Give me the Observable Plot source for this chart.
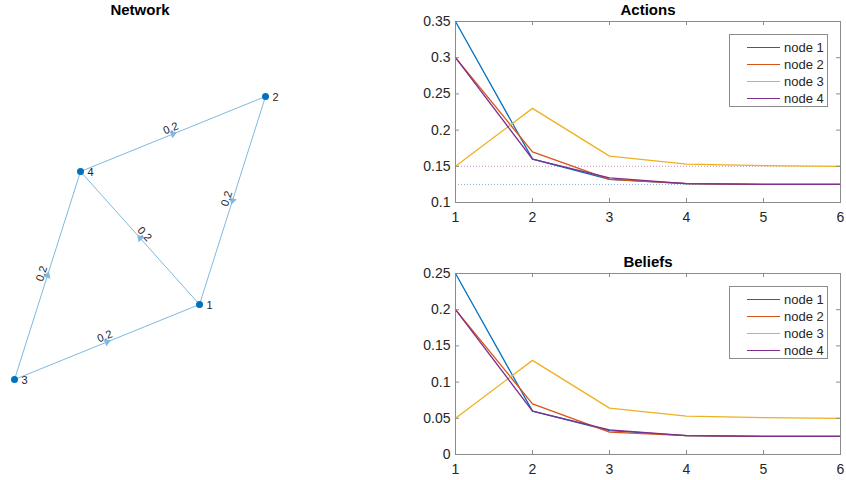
<!DOCTYPE html>
<html><head><meta charset="utf-8">
<script src="https://cdn.jsdelivr.net/npm/d3@7"></script>
<script src="https://cdn.jsdelivr.net/npm/@observablehq/plot@0.6"></script>
<style>
body{margin:0;background:#fff;font-family:"Liberation Sans",Arial,Helvetica,sans-serif;}
#root{position:relative;width:846px;height:480px;overflow:hidden;background:#fff;}
#root > svg{position:absolute;left:0;top:0;}
.legend{position:absolute;box-sizing:border-box;border:1px solid #8c8c8c;background:#fff;font-size:13px;color:#262626;padding-top:4px;}
.legend .row{height:17px;display:flex;align-items:center;}
.legend .sw{display:block;width:33px;height:1px;margin-left:17px;}
.legend .lb{margin-left:4px;line-height:1;}
</style></head><body><div id="root"></div>
<script>
// ---------- data ----------
const steps = [1, 2, 3, 4, 5, 6];
const nodeNames = ["node 1", "node 2", "node 3", "node 4"];
const nodeColors = ["#0072BD", "#D95319", "#EDB120", "#7E2F8E"];

const actionsNode1 = [0.35, 0.160, 0.132, 0.126, 0.125, 0.125];
const actionsNode2 = [0.30, 0.170, 0.132, 0.126, 0.125, 0.125];
const actionsNode3 = [0.15, 0.230, 0.164, 0.153, 0.151, 0.150];
const actionsNode4 = [0.30, 0.160, 0.134, 0.126, 0.125, 0.125];
const actionsRefs = [0.15, 0.125];
const actionsRefColors = ["#c98fb4", "#7eaee0"];
const actionsYTicks = [0.1, 0.15, 0.2, 0.25, 0.3, 0.35];

const beliefsNode1 = [0.25, 0.060, 0.033, 0.026, 0.025, 0.025];
const beliefsNode2 = [0.20, 0.070, 0.031, 0.026, 0.025, 0.025];
const beliefsNode3 = [0.05, 0.130, 0.064, 0.053, 0.051, 0.050];
const beliefsNode4 = [0.20, 0.060, 0.034, 0.026, 0.025, 0.025];
const beliefsYTicks = [0, 0.05, 0.1, 0.15, 0.2, 0.25];

// network layout (layout units)
const nodeIds = [1, 2, 3, 4];
const nodeX = [0.59, 1.25, -1.26, -0.60];
const nodeY = [-0.64, 1.44, -1.39, 0.69];
const edgeSource = [4, 2, 1, 3, 3];
const edgeTarget = [2, 1, 4, 4, 1];
const edgeWeight = [0.2, 0.2, 0.2, 0.2, 0.2];

// ---------- drawing ----------
const W = 846, H = 480;
const FONT = "'Liberation Sans', Arial, Helvetica, sans-serif";
const root = document.getElementById("root");
const frameStroke = "#8c8c8c";

function linePanel({title, series, yTicks, top, bottom, refs, refColors}) {
  const left = 455, right = 840;
  const frameH = bottom - top, frameW = right - left;
  const data = series.flatMap((vals, i) => vals.map((v, j) => ({step: steps[j], value: v, node: nodeNames[i]})));
  const refData = (refs || []).map((r, i) => ({y: r, c: refColors[i]}));
  const svg = Plot.plot({
    width: W, height: H,
    marginLeft: left, marginRight: W - right, marginTop: top, marginBottom: H - bottom,
    style: {background: "transparent", fontFamily: FONT, fontSize: "14px", color: "#262626", overflow: "visible"},
    x: {domain: [steps[0], steps[steps.length - 1]], label: null},
    y: {domain: [yTicks[0], yTicks[yTicks.length - 1]], label: null},
    color: {domain: nodeNames, range: nodeColors},
    marks: [
      Plot.ruleY(refData, {y: "y", stroke: "c", strokeWidth: 1, strokeDasharray: "1,2"}),
      Plot.line(data, {x: "step", y: "value", z: "node", stroke: "node", strokeWidth: 1.3}),
      Plot.frame({stroke: frameStroke, strokeWidth: 1}),
      Plot.tickX(steps, {x: d => d, insetTop: frameH - 4, stroke: frameStroke}),
      Plot.tickX(steps, {x: d => d, insetBottom: frameH - 4, stroke: frameStroke}),
      Plot.tickY(yTicks, {y: d => d, insetRight: frameW - 4, stroke: frameStroke}),
      Plot.tickY(yTicks, {y: d => d, insetLeft: frameW - 4, stroke: frameStroke}),
      Plot.axisX(steps, {tickSize: 0, tickPadding: 10, fontSize: 14, label: null, tickFormat: d3.format("d")}),
      Plot.axisY(yTicks, {tickSize: 0, tickPadding: 5, fontSize: 14, label: null, tickFormat: d3.format("~g")}),
      Plot.text([title], {frameAnchor: "top", lineAnchor: "middle", dy: -11, fontWeight: "bold", fontSize: 15, fill: "#000"})
    ]
  });
  root.appendChild(svg);
  // legend
  const lg = document.createElement("div");
  lg.className = "legend";
  lg.style.left = (right - 111) + "px";
  lg.style.top = (top + 13) + "px";
  lg.style.width = "99px";
  lg.style.height = "73px";
  nodeNames.forEach((n, i) => {
    const row = document.createElement("div");
    row.className = "row";
    const sw = document.createElement("span");
    sw.className = "sw";
    sw.style.background = nodeColors[i];
    const lb = document.createElement("span");
    lb.className = "lb";
    lb.textContent = n;
    row.appendChild(sw); row.appendChild(lb);
    lg.appendChild(row);
  });
  root.appendChild(lg);
}

linePanel({title: "Actions", series: [actionsNode1, actionsNode2, actionsNode3, actionsNode4],
  yTicks: actionsYTicks, top: 21, bottom: 202, refs: actionsRefs, refColors: actionsRefColors});
linePanel({title: "Beliefs", series: [beliefsNode1, beliefsNode2, beliefsNode3, beliefsNode4],
  yTicks: beliefsYTicks, top: 273, bottom: 454});

// network
const nodes = nodeIds.map((id, i) => ({id, x: nodeX[i], y: nodeY[i]}));
const byId = new Map(nodes.map(n => [n.id, n]));
const labelGap = 0.025; // perpendicular gap of edge labels (layout units)
const edges = edgeSource.map((s, i) => {
  const a = byId.get(s), b = byId.get(edgeTarget[i]);
  const dx = b.x - a.x, dy = b.y - a.y;
  let ta = Math.atan2(-dy, dx) * 180 / Math.PI;
  if (ta > 90) ta -= 180;
  if (ta < -90) ta += 180;
  const tr = ta * Math.PI / 180;
  const mx = (a.x + b.x) / 2, my = (a.y + b.y) / 2;
  return {x1: a.x, y1: a.y, x2: b.x, y2: b.y, mx, my,
    lx: mx + Math.sin(tr) * labelGap, ly: my + Math.cos(tr) * labelGap,
    arrowAngle: Math.atan2(dx, dy) * 180 / Math.PI, textAngle: ta, w: edgeWeight[i]};
});
const edgeColor = "#80b9df";
const net = Plot.plot({
  width: W, height: H,
  marginLeft: 14, marginRight: W - 265, marginTop: 96, marginBottom: H - 379,
  style: {background: "transparent", fontFamily: FONT, fontSize: "11px", color: "#262626", overflow: "visible"},
  x: {domain: d3.extent(nodeX), axis: null},
  y: {domain: d3.extent(nodeY), axis: null},
  marks: [
    Plot.link(edges, {x1: "x1", y1: "y1", x2: "x2", y2: "y2", stroke: edgeColor, strokeWidth: 1}),
    Plot.dot(edges, {x: "mx", y: "my", symbol: "triangle2", r: 3.6, rotate: "arrowAngle", fill: edgeColor}),
    Plot.text(edges, {x: "lx", y: "ly", text: d => String(d.w), rotate: "textAngle", lineAnchor: "bottom", fontSize: 11, fill: "#262626"}),
    Plot.dot(nodes, {x: "x", y: "y", r: 3.5, fill: "#0072BD"}),
    Plot.text(nodes, {x: "x", y: "y", text: d => String(d.id), dx: 7, dy: 1, textAnchor: "start", fontSize: 11, fill: "#262626"}),
    Plot.text(["Network"], {frameAnchor: "top", lineAnchor: "middle", dy: -86, fontWeight: "bold", fontSize: 15, fill: "#000"})
  ]
});
root.appendChild(net);
</script>
</body></html>
